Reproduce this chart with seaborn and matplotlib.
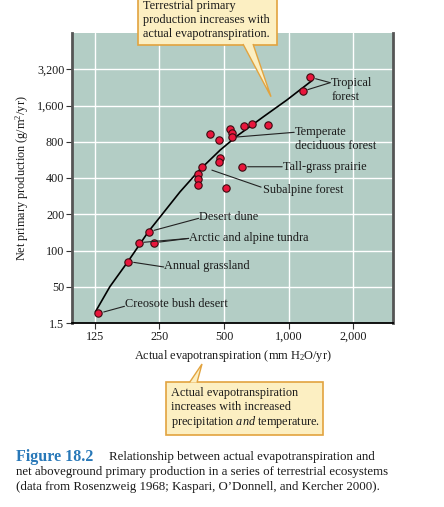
import numpy as np
import pandas as pd
import matplotlib
matplotlib.use("Agg")
import matplotlib.pyplot as plt
import seaborn as sns
from matplotlib.patches import Rectangle, Polygon
from matplotlib.ticker import NullLocator

#### data ####
# ecosystem points: actual evapotranspiration (mm/yr) vs NPP (g/m2/yr)
aet = [1260, 1160, 431, 473, 532, 544, 547, 622, 674, 797, 481, 473,
       607, 394, 377, 378, 379, 513, 223, 200, 236, 179, 130]
npp = [2745, 2100, 922, 822, 1020, 940, 870, 1074, 1129, 1095, 589, 539,
       496, 496, 428, 389, 349, 330, 143, 116, 116, 81, 30]

# trend curve
curve_aet = [126, 147, 179, 222, 312, 384, 480, 574, 763, 981, 1283]
curve_npp = [31, 50, 81.5, 143, 307, 465, 683, 892, 1291, 1778, 2573]

x_ticks = [125, 250, 500, 1000, 2000]
x_labels = ["125", "250", "500", "1,000", "2,000"]
y_ticks = [25, 50, 100, 200, 400, 800, 1600, 3200]
y_labels = ["1.5", "50", "100", "200", "400", "800", "1,600", "3,200"]

# label text, text position, leader start points, leader end
labels = [
    ("Tropical\nforest", (1578, 2145), [(1260, 2745), (1160, 2100)], (1561, 2476), 4),
    ("Temperate\ndeciduous forest", (1072, 838), [(547, 870)], (1061, 958), 3),
    ("Tall-grass prairie", (946, 496), [(607, 496)], (933, 496), 4),
    ("Subalpine forest", (763, 317), [(439, 465)], (744, 336), 0),
    ("Desert dune", (384, 190), [(223, 143)], (381, 185), 4),
    ("Arctic and alpine tundra", (344, 126), [(200, 116), (236, 116)], (342, 126), 4),
    ("Annual grassland", (264, 74), [(179, 81)], (262, 73), 4),
    ("Creosote bush desert", (173, 36.2), [(130, 30)], (172, 34.4), 4),
]

sns.set_style("ticks", {"axes.facecolor": "#b3cdc5"})
plt.rcParams['font.family'] = ['Liberation Serif', 'DejaVu Serif']
plt.rcParams['mathtext.fontset'] = 'custom'
plt.rcParams['mathtext.rm'] = 'Liberation Serif'
plt.rcParams['mathtext.it'] = 'Liberation Serif:italic'
plt.rcParams['mathtext.bf'] = 'Liberation Serif:bold'

txt = "#1a1a1a"
W, H = 444, 507

fig = plt.figure(figsize=(4.44, 5.07), dpi=100)
ax = fig.add_axes([72 / W, 1 - 323 / H, (393 - 72) / W, (323 - 33) / H])

sns.lineplot(x=curve_aet, y=curve_npp, ax=ax, color="black", lw=1.2,
             sort=True, zorder=2)
sns.scatterplot(x=aet, y=npp, ax=ax, s=28, color="#e8163c",
                edgecolor="#3a0a10", linewidth=0.8, zorder=3)

ax.set_xscale("log", base=2)
ax.set_yscale("log", base=2)
ax.set_xlim(98, 3060)
ax.set_ylim(25, 6400)
ax.set_xticks(x_ticks)
ax.set_xticklabels(x_labels)
ax.set_yticks(y_ticks)
ax.set_yticklabels(y_labels)
ax.xaxis.set_minor_locator(NullLocator())
ax.yaxis.set_minor_locator(NullLocator())
ax.grid(True, color="white", lw=1)
ax.set_axisbelow(True)

ax.spines["top"].set_visible(False)
for s in ["left", "right"]:
    ax.spines[s].set_color("#555555")
    ax.spines[s].set_linewidth(2)
ax.spines["bottom"].set_color("black")
ax.spines["bottom"].set_linewidth(1.3)
ax.tick_params(axis="both", direction="out", length=4, width=0.8,
               color="#333333", labelsize=8.7, pad=1.5, labelcolor=txt)

ax.set_xlabel(r"Actual evapotranspiration (mm H$_2$O/yr)", fontsize=8.8,
              labelpad=4, color=txt)
ax.set_ylabel(r"Net primary production (g/m$^2$/yr)", fontsize=8.8,
              labelpad=4, color=txt)

for name, pos, starts, end, shr in labels:
    ax.text(pos[0], pos[1], name, fontsize=8.8, ha="left", va="center",
            color=txt, linespacing=1.25)
    for st in starts:
        ax.annotate("", xy=end, xytext=st,
                    arrowprops=dict(arrowstyle="-", color="#222222", lw=0.8,
                                    shrinkA=shr, shrinkB=0))

#### callout boxes ####
def fx(px):
    return px / W


def fy(py):
    return 1 - py / H


box_face = "#fcefc2"
box_edge = "#e2a33f"

fig.add_artist(Rectangle((fx(138), fy(45)), fx(277) - fx(138), fy(-3) - fy(45),
                         transform=fig.transFigure, facecolor=box_face,
                         edgecolor=box_edge, lw=1.2, zorder=5))
fig.add_artist(Polygon([(fx(243), fy(44)), (fx(271), fy(96.7)), (fx(253), fy(44))],
                       closed=False, transform=fig.transFigure,
                       facecolor=box_face, edgecolor=box_edge, lw=1, zorder=6))
for i, line in enumerate(["Terrestrial primary", "production increases with",
                          "actual evapotranspiration."]):
    fig.text(fx(143), fy(5.7 + 14.3 * i), line, fontsize=8.8, va="center",
             color=txt, zorder=7)

fig.add_artist(Rectangle((fx(165.7), fy(435)), fx(323.3) - fx(165.7), fy(381.7) - fy(435),
                         transform=fig.transFigure, facecolor=box_face,
                         edgecolor=box_edge, lw=1.2, zorder=5))
fig.add_artist(Polygon([(fx(189.5), fy(382.5)), (fx(202), fy(364)), (fx(197), fy(382.5))],
                       closed=False, transform=fig.transFigure,
                       facecolor=box_face, edgecolor=box_edge, lw=1, zorder=6))
for i, line in enumerate(["Actual evapotranspiration",
                          "increases with increased",
                          r"precipitation $\mathit{and}$ temperature."]):
    fig.text(fx(170.7), fy(393.3 + 14.2 * i), line, fontsize=8.8, va="center",
             color=txt, zorder=7)

#### caption ####
fig.text(fx(16), fy(456.7), "Figure 18.2", fontsize=11.5, color="#2878b8",
         fontweight="semibold", va="center")
fig.text(fx(109.3), fy(456.7), "Relationship between actual evapotranspiration and",
         fontsize=9.3, color=txt, va="center")
fig.text(fx(16), fy(471.7),
         "net aboveground primary production in a series of terrestrial ecosystems",
         fontsize=9.3, color=txt, va="center")
fig.text(fx(16), fy(486.7),
         "(data from Rosenzweig 1968; Kaspari, O\u2019Donnell, and Kercher 2000).",
         fontsize=9.3, color=txt, va="center")

fig.savefig("out.png", dpi=100)
